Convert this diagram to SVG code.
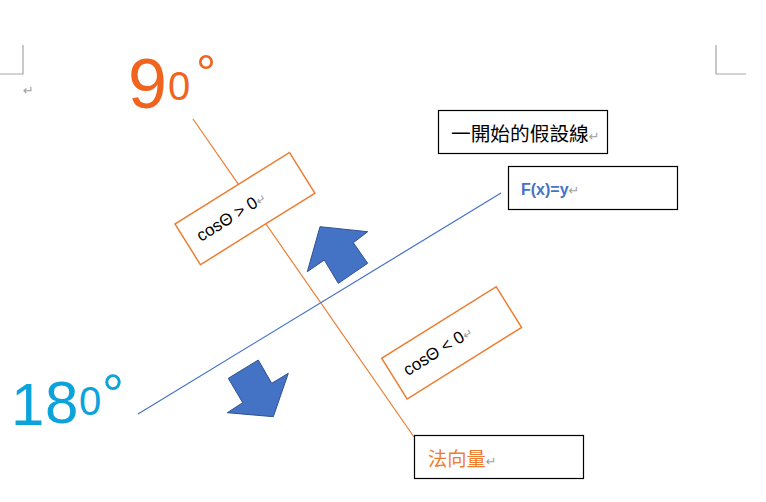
<svg xmlns="http://www.w3.org/2000/svg" width="766" height="502" viewBox="0 0 766 502">
<style>
.mark{stroke:#A6A6A6;stroke-width:1.2;fill:none}
.ret{font-family:"DejaVu Sans",sans-serif;fill:#A0A0A0;font-weight:normal}
.obox{fill:#fff;stroke:#ED7D31;stroke-width:1.5}
.kbox{fill:#fff;stroke:#000;stroke-width:1.2}
.t{font-family:"Liberation Sans","Noto Sans CJK TC",sans-serif}
.cjk{font-family:"Noto Sans CJK TC",sans-serif}
.arrow{fill:#4472C4;stroke:#2F528F;stroke-width:1}
</style>
<rect width="766" height="502" fill="#fff"/>
<g id="page-marks">
<path class="mark" d="M23,45 V74 H0"/>
<path class="mark" d="M716,45 V74 H746"/>
<text class="ret" x="23" y="95" font-size="13">↵</text>
</g>
<g id="connectors">
<line x1="193" y1="119" x2="414" y2="437" stroke="#ED7D31" stroke-width="1.2"/>
<line x1="138" y1="414" x2="501" y2="193" stroke="#4472C4" stroke-width="1.2"/>
</g>
<g id="label-90">
<text class="t" fill="#F0641E"><tspan x="128" y="108" font-size="70">9</tspan><tspan x="168" y="100" font-size="40">0</tspan><tspan x="196" y="90" font-size="50">°</tspan></text>
</g>
<g id="label-180">
<text class="t" fill="#0CA2DA"><tspan x="11" y="425" font-size="60">1</tspan><tspan x="45" y="423" font-size="60">8</tspan><tspan x="79" y="415" font-size="40">0</tspan><tspan x="102" y="413" font-size="55">°</tspan></text>
</g>
<g id="box-cos-pos" transform="translate(175,224) rotate(-32)">
<rect class="obox" x="0" y="0" width="135" height="48"/>
<text class="t" x="12.5" y="29" font-size="17" fill="#000">cosΘ &gt; 0<tspan class="ret" font-size="12">↵</tspan></text>
</g>
<g id="box-cos-neg" transform="translate(381.7,358.3) rotate(-32)">
<rect class="obox" x="0" y="0" width="135" height="48"/>
<text class="t" x="12.5" y="29" font-size="17" fill="#000">cosΘ &lt; 0<tspan class="ret" font-size="12">↵</tspan></text>
</g>
<g id="arrow-up">
<polygon class="arrow" points="320,226.7 367.7,231.7 353.3,242.7 367.7,263.3 338.3,283.3 324.3,260 307.3,271.7"/>
</g>
<g id="arrow-down">
<polygon class="arrow" points="258.3,360 271.7,383.3 288.3,373.3 273.3,416.7 227.3,412.7 242.7,402.7 228.3,378.3"/>
</g>
<g id="box-initial">
<rect class="kbox" x="438.5" y="110.5" width="169" height="43"/>
<text class="cjk" x="451" y="141" font-size="19.7" fill="#000">一開始的假設線<tspan class="ret" font-size="13">↵</tspan></text>
</g>
<g id="box-fx">
<rect class="kbox" x="508.5" y="166.5" width="169" height="43"/>
<text class="t" x="521" y="195" font-size="16" font-weight="bold" fill="#4472C4">F(x)=y<tspan class="ret" font-size="13">↵</tspan></text>
</g>
<g id="box-normal">
<rect class="kbox" x="414.5" y="435.5" width="169" height="43"/>
<text class="cjk" x="428" y="466" font-size="19.3" fill="#ED7D31">法向量<tspan class="ret" font-size="13">↵</tspan></text>
</g>
</svg>
